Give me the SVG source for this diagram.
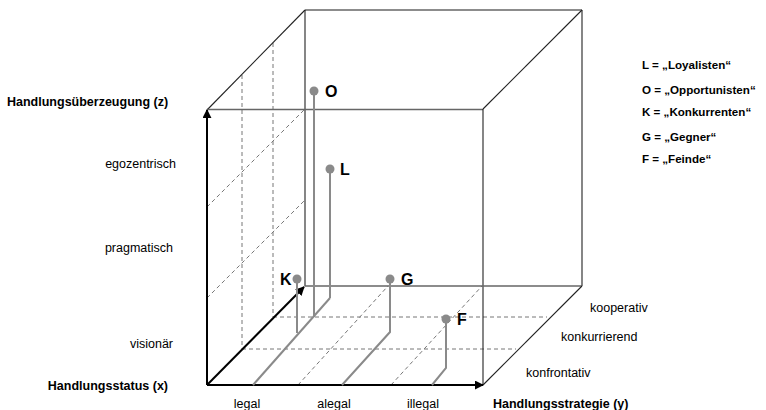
<svg xmlns="http://www.w3.org/2000/svg" width="766" height="410" viewBox="0 0 766 410">
  <style>
    text { font-family: "Liberation Sans", Arial, sans-serif; fill: #000; }
    .axis-title { font-size: 12.5px; font-weight: bold; }
    .tick { font-size: 12.5px; }
    .legend { font-size: 11.6px; font-weight: bold; }
    .pt-label { font-size: 16px; font-weight: bold; }
    .edge { stroke: #222; stroke-width: 1.1; fill: none; }
    .edge-gray { stroke: #666; stroke-width: 1.6; fill: none; }
    .axis { stroke: #000; stroke-width: 2; fill: none; }
    .grid { stroke: #777; stroke-width: 1; stroke-dasharray: 4 3; fill: none; }
    .stem { stroke: #8a8a8a; stroke-width: 2; fill: none; }
    .dot { fill: #8a8a8a; }
  </style>
  <defs>
    <marker id="arrow" viewBox="0 0 10 10" refX="9" refY="5" markerWidth="4.5" markerHeight="4.5" orient="auto" markerUnits="strokeWidth">
      <path d="M0,0 L10,5 L0,10 z" fill="#000"/>
    </marker>
  </defs>

  <rect width="766" height="410" fill="#fff"/>

  <!-- dashed guide lines inside the cube -->
  <g id="grid">
    <!-- verticals on the left face -->
    <line class="grid" x1="242" y1="75" x2="242" y2="349"/>
    <line class="grid" x1="273" y1="43" x2="273" y2="317"/>
    <!-- diagonals on the left face -->
    <line class="grid" x1="207" y1="207" x2="305" y2="109"/>
    <line class="grid" x1="207" y1="298" x2="305" y2="200"/>
    <!-- horizontals on the floor -->
    <line class="grid" x1="242" y1="349" x2="516" y2="349"/>
    <line class="grid" x1="273" y1="317" x2="547" y2="317"/>
    <!-- diagonals on the floor -->
    <line class="grid" x1="298" y1="385" x2="388" y2="286"/>
    <line class="grid" x1="391" y1="385" x2="482" y2="286"/>
  </g>

  <!-- cube edges -->
  <g id="cube">
    <line class="edge-gray" x1="305" y1="10" x2="582" y2="10"/>
    <line class="edge" x1="207" y1="110" x2="305" y2="10"/>
    <line class="edge" x1="483" y1="109" x2="582" y2="10"/>
    <line class="edge" x1="305" y1="10" x2="305" y2="286"/>
    <line class="edge" x1="582" y1="10" x2="582" y2="286"/>
    <line class="edge-gray" x1="207" y1="109.5" x2="483" y2="109.5"/>
    <line class="edge" x1="483" y1="109" x2="483" y2="385"/>
    <line class="edge-gray" x1="305" y1="286" x2="582" y2="286"/>
    <line class="edge" x1="483" y1="385" x2="582" y2="286"/>
  </g>

  <!-- coordinate axes -->
  <g id="axes">
    <line class="axis" x1="207" y1="385" x2="207" y2="110" marker-end="url(#arrow)"/>
    <line class="axis" x1="207" y1="385" x2="483" y2="385" marker-end="url(#arrow)"/>
    <line class="axis" x1="207" y1="385" x2="304" y2="287" stroke-width="1.7" marker-end="url(#arrow)"/>
  </g>

  <!-- projection lines of the points -->
  <g id="connectors">
    <polyline class="stem" points="253,385 330,298"/>
    <line class="stem" x1="330" y1="169" x2="330" y2="298"/>
    <line class="stem" x1="314" y1="91" x2="314" y2="317"/>
    <line class="stem" x1="297" y1="279" x2="297" y2="333"/>
    <polyline class="stem" points="342,385 390,332 390,279"/>
    <polyline class="stem" points="432,385 446,368 446,319"/>
  </g>

  <!-- points -->
  <g id="O">
    <circle class="dot" cx="314" cy="91" r="4.5"/>
    <text class="pt-label" x="325" y="97">O</text>
  </g>
  <g id="L">
    <circle class="dot" cx="330" cy="169" r="4.5"/>
    <text class="pt-label" x="340" y="175">L</text>
  </g>
  <g id="K">
    <circle class="dot" cx="297" cy="279" r="4.5"/>
    <text class="pt-label" x="280" y="285">K</text>
  </g>
  <g id="G">
    <circle class="dot" cx="390" cy="279" r="4.5"/>
    <text class="pt-label" x="401" y="285">G</text>
  </g>
  <g id="F">
    <circle class="dot" cx="446" cy="319" r="4.5"/>
    <text class="pt-label" x="457" y="325">F</text>
  </g>

  <!-- axis titles and scale labels -->
  <g id="labels">
    <text class="axis-title" x="7" y="106">Handlungsüberzeugung (z)</text>
    <text class="tick" x="176" y="168" text-anchor="end">egozentrisch</text>
    <text class="tick" x="173" y="252" text-anchor="end">pragmatisch</text>
    <text class="tick" x="173" y="348" text-anchor="end">visionär</text>
    <text class="axis-title" x="168" y="390" text-anchor="end">Handlungsstatus (x)</text>
    <text class="tick" x="247" y="408" text-anchor="middle">legal</text>
    <text class="tick" x="334" y="408" text-anchor="middle">alegal</text>
    <text class="tick" x="423" y="408" text-anchor="middle">illegal</text>
    <text class="axis-title" x="493" y="408">Handlungsstrategie (y)</text>
    <text class="tick" x="590" y="312">kooperativ</text>
    <text class="tick" x="561" y="341">konkurrierend</text>
    <text class="tick" x="526" y="377">konfrontativ</text>
  </g>

  <!-- legend -->
  <g id="legend">
    <text class="legend" x="642" y="69">L = „Loyalisten“</text>
    <text class="legend" x="642" y="94">O = „Opportunisten“</text>
    <text class="legend" x="642" y="116">K = „Konkurrenten“</text>
    <text class="legend" x="642" y="141">G = „Gegner“</text>
    <text class="legend" x="642" y="163">F = „Feinde“</text>
  </g>
</svg>
